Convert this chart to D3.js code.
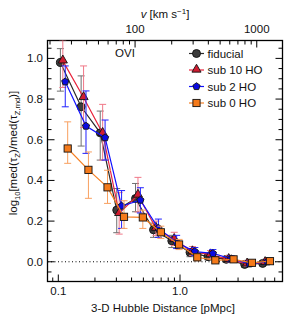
<!DOCTYPE html>
<html>
<head>
<meta charset="utf-8">
<script src="https://cdn.jsdelivr.net/npm/d3@7"></script>
<style>
  body { margin: 0; background: #fff; }
  text { font-family: "Liberation Sans", Arial, sans-serif; fill: #111; }
</style>
</head>
<body>
<script>
(function(){
    // bin centres of the fiducial run (pMpc)
    var dist = [0.104, 0.154, 0.221, 0.302, 0.431, 0.606, 0.856, 1.208, 1.70, 2.40, 3.40, 4.78];

    var fidVal = [0.980, 0.762, 0.634, 0.254, 0.311, 0.157, 0.103, 0.046, 0.025, 0.012, -0.013, -0.008];
    var fidLo  = [0.839, 0.569, 0.500, 0.143, 0.246, 0.120, 0.070, 0.025, 0.010, 0.000, -0.025, -0.018];
    var fidHi  = [1.048, 0.914, 0.741, 0.360, 0.385, 0.190, 0.130, 0.065, 0.040, 0.025, 0.000, 0.003];

    var s10Val = [0.988, 0.808, 0.632, 0.238, 0.328, 0.165, 0.110, 0.050, 0.035, 0.012, -0.010, -0.003];
    var s10Lo  = [0.857, 0.660, 0.500, 0.136, 0.245, 0.130, 0.080, 0.030, 0.015, 0.000, -0.022, -0.013];
    var s10Hi  = [1.090, 0.963, 0.774, 0.340, 0.415, 0.200, 0.145, 0.075, 0.055, 0.030, 0.005, 0.007];

    var s2Val = [0.885, 0.667, 0.610, 0.274, 0.303, 0.165, 0.095, 0.050, 0.041, 0.015, -0.010, 0.000];
    var s2Lo  = [0.762, 0.533, 0.500, 0.164, 0.240, 0.120, 0.065, 0.030, 0.025, 0.000, -0.022, -0.010];
    var s2Hi  = [0.963, 0.840, 0.697, 0.350, 0.364, 0.210, 0.130, 0.070, 0.060, 0.030, 0.004, 0.010];

    var s0Val = [0.557, 0.452, 0.366, 0.221, 0.218, 0.145, 0.085, 0.022, 0.007, 0.012, -0.005, 0.003];
    var s0Lo  = [0.484, 0.312, 0.287, 0.164, 0.164, 0.115, 0.060, 0.005, -0.005, 0.000, -0.015, -0.007];
    var s0Hi  = [0.688, 0.540, 0.450, 0.300, 0.254, 0.175, 0.110, 0.040, 0.020, 0.025, 0.005, 0.012];

    var seriesNames = ["fiducial", "sub 10 HO", "sub 2 HO", "sub 0 HO"];
    var xTickLabels = ["0.1", "1.0"];
    var vTickLabels = ["100", "1000"];
    var yTickLabels = ["0.0", "0.2", "0.4", "0.6", "0.8", "1.0"];

    var hubble = 234;   // km/s per pMpc

    var width = 291, height = 323;
    var left = 47.5, right = 282.5, top = 40.5, bottom = 281.5;

    var series = [
        {name: seriesNames[0], val: fidVal, lo: fidLo, hi: fidHi, dex: 0.00,
         line: "#2a2a2a", err: "#707070", fill: "#3c3c3c", shape: "circle"},
        {name: seriesNames[1], val: s10Val, lo: s10Lo, hi: s10Hi, dex: 0.02,
         line: "#e8243c", err: "#f07888", fill: "#d01c30", shape: "triangle"},
        {name: seriesNames[2], val: s2Val, lo: s2Lo, hi: s2Hi, dex: 0.04,
         line: "#1010ff", err: "#2020ff", fill: "#0a0ae0", shape: "pentagon"},
        {name: seriesNames[3], val: s0Val, lo: s0Lo, hi: s0Hi, dex: 0.06,
         line: "#f58025", err: "#f8a060", fill: "#f57a1a", shape: "square"}
    ];

    var x = d3.scaleLog().domain([0.0815, 6.955]).range([left, right]);
    var xv = d3.scaleLog().domain([0.0815 * hubble, 6.955 * hubble]).range([left, right]);
    var y = d3.scaleLinear().domain([-0.097, 1.088]).range([bottom, top]);

    var svg = d3.select("body").append("svg")
        .attr("width", width)
        .attr("height", height);

    svg.append("rect").attr("width", width).attr("height", height).attr("fill", "#fff");

    svg.append("defs").append("clipPath").attr("id", "plotclip")
        .append("rect")
        .attr("x", left).attr("y", top)
        .attr("width", right - left).attr("height", bottom - top);

    // zero line
    svg.append("line")
        .attr("x1", left).attr("x2", right)
        .attr("y1", y(0)).attr("y2", y(0))
        .attr("stroke", "#000").attr("stroke-width", 1)
        .attr("stroke-dasharray", "1,2.5");

    // ticks
    function decadeTicks(scale){
        var d = scale.domain(), out = [];
        for (var e = -3; e <= 5; e++){
            for (var m = 1; m < 10; m++){
                var v = m * Math.pow(10, e);
                if (v >= d[0] && v <= d[1]) out.push({v: v, major: m === 1});
            }
        }
        return out;
    }

    var tickG = svg.append("g").attr("stroke", "#000").attr("stroke-width", 1);

    decadeTicks(x).forEach(function(t){
        var len = t.major ? 7 : 4;
        tickG.append("line").attr("x1", x(t.v)).attr("x2", x(t.v))
            .attr("y1", bottom).attr("y2", bottom - len);
    });
    decadeTicks(xv).forEach(function(t){
        var len = t.major ? 7 : 4;
        tickG.append("line").attr("x1", xv(t.v)).attr("x2", xv(t.v))
            .attr("y1", top).attr("y2", top + len);
    });
    d3.range(-0.05, 1.0876, 0.05).forEach(function(v){
        var major = Math.abs(Math.round(v * 10) / 10 - v) < 1e-6 && Math.round(v * 10) % 2 === 0;
        var len = major ? 7 : 4;
        tickG.append("line").attr("x1", left).attr("x2", left + len)
            .attr("y1", y(v)).attr("y2", y(v));
        tickG.append("line").attr("x1", right).attr("x2", right - len)
            .attr("y1", y(v)).attr("y2", y(v));
    });

    // frame
    svg.append("rect")
        .attr("x", left).attr("y", top)
        .attr("width", right - left).attr("height", bottom - top)
        .attr("fill", "none").attr("stroke", "#000").attr("stroke-width", 1.3);

    // tick labels
    [0.1, 1.0].forEach(function(v, i){
        svg.append("text").attr("x", x(v)).attr("y", 295)
            .attr("text-anchor", "middle").attr("font-size", 11.5)
            .text(xTickLabels[i]);
    });
    [100, 1000].forEach(function(v, i){
        svg.append("text").attr("x", xv(v)).attr("y", 32.5)
            .attr("text-anchor", "middle").attr("font-size", 11.5)
            .text(vTickLabels[i]);
    });
    [0, 0.2, 0.4, 0.6, 0.8, 1.0].forEach(function(v, i){
        svg.append("text").attr("x", 43).attr("y", y(v) + 4)
            .attr("text-anchor", "end").attr("font-size", 11.5)
            .text(yTickLabels[i]);
    });

    // axis titles
    svg.append("text").attr("x", 163).attr("y", 312)
        .attr("text-anchor", "middle").attr("font-size", 11.5)
        .text("3-D Hubble Distance [pMpc]");

    var vt = svg.append("text").attr("x", 165).attr("y", 18)
        .attr("text-anchor", "middle").attr("font-size", 11.5);
    vt.append("tspan").attr("font-style", "italic").text("v");
    vt.append("tspan").text(" [km s");
    vt.append("tspan").attr("font-size", 8).attr("dy", -4).text("\u22121");
    vt.append("tspan").attr("dy", 4).text("]");

    var yt = svg.append("text")
        .attr("transform", "translate(17," + 153 + ") rotate(-90)")
        .attr("text-anchor", "middle").attr("font-size", 11.5);
    yt.append("tspan").text("log");
    yt.append("tspan").attr("font-size", 7.5).attr("dy", 3).text("10");
    yt.append("tspan").attr("dy", -3).text("[med(");
    yt.append("tspan").text("\u03c4");
    yt.append("tspan").attr("font-size", 7.5).attr("dy", 3).text("Z");
    yt.append("tspan").attr("dy", -3).text(")/med(");
    yt.append("tspan").text("\u03c4");
    yt.append("tspan").attr("font-size", 7.5).attr("dy", 3).text("Z,rnd");
    yt.append("tspan").attr("dy", -3).text(")]");

    svg.append("text").attr("x", 125).attr("y", 57)
        .attr("text-anchor", "middle").attr("font-size", 11.5)
        .text("OVI");

    // markers
    function marker(g, shape, cx, cy, fill){
        var m;
        if (shape === "circle"){
            m = g.append("circle").attr("cx", cx).attr("cy", cy).attr("r", 4);
        } else if (shape === "square"){
            m = g.append("rect").attr("x", cx - 3.6).attr("y", cy - 3.6)
                .attr("width", 7.2).attr("height", 7.2);
        } else if (shape === "triangle"){
            m = g.append("path").attr("d", d3.symbol().type(d3.symbolTriangle).size(36)())
                .attr("transform", "translate(" + cx + "," + (cy - 0.5) + ")");
        } else {
            var pts = d3.range(5).map(function(k){
                var a = -Math.PI / 2 + k * 2 * Math.PI / 5;
                return [cx + 3.8 * Math.cos(a), cy + 3.8 * Math.sin(a)];
            });
            m = g.append("polygon").attr("points", pts.map(function(p){ return p.join(","); }).join(" "));
        }
        m.attr("fill", fill).attr("stroke", "#111").attr("stroke-width", 0.9);
    }

    var plot = svg.append("g").attr("clip-path", "url(#plotclip)");

    series.forEach(function(s){
        var g = plot.append("g");
        var xs = dist.map(function(d){ return x(d * Math.pow(10, s.dex)); });

        // error bars
        s.val.forEach(function(v, i){
            g.append("line").attr("x1", xs[i]).attr("x2", xs[i])
                .attr("y1", y(s.lo[i])).attr("y2", y(s.hi[i]))
                .attr("stroke", s.err).attr("stroke-width", 1);
            [s.lo[i], s.hi[i]].forEach(function(e){
                g.append("line").attr("x1", xs[i] - 3.5).attr("x2", xs[i] + 3.5)
                    .attr("y1", y(e)).attr("y2", y(e))
                    .attr("stroke", s.err).attr("stroke-width", 1);
            });
        });

        var line = d3.line()
            .x(function(d, i){ return xs[i]; })
            .y(function(d){ return y(d); });
        g.append("path").datum(s.val)
            .attr("d", line)
            .attr("fill", "none")
            .attr("stroke", s.line)
            .attr("stroke-width", 1.2);

        s.val.forEach(function(v, i){
            marker(g, s.shape, xs[i], y(v), s.fill);
        });
    });

    // legend
    var legY = [53.5, 70, 86.5, 103];
    series.forEach(function(s, i){
        var g = svg.append("g");
        g.append("line").attr("x1", 189).attr("x2", 204)
            .attr("y1", legY[i]).attr("y2", legY[i])
            .attr("stroke", s.line).attr("stroke-width", 1.2);
        marker(g, s.shape, 196.5, legY[i], s.fill);
        g.append("text").attr("x", 207.5).attr("y", legY[i] + 4)
            .attr("font-size", 11.5)
            .text(s.name);
    });
})();
</script>
</body>
</html>
